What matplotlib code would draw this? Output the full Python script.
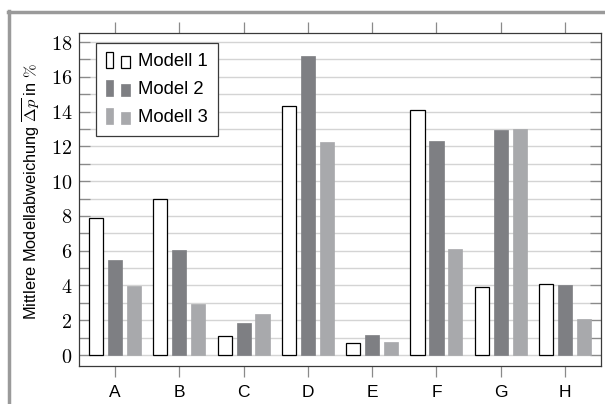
import matplotlib
matplotlib.use("Agg")
import matplotlib.pyplot as plt
import numpy as np
from matplotlib.legend_handler import HandlerBase
from matplotlib.lines import Line2D
from matplotlib.patches import Rectangle

categories = ["A", "B", "C", "D", "E", "F", "G", "H"]
modell_1 = [7.9, 9.0, 1.07, 14.3, 0.67, 14.1, 3.9, 4.06]
model_2 = [5.44, 6.03, 1.85, 17.18, 1.15, 12.3, 12.93, 4.02]
modell_3 = [3.98, 2.95, 2.35, 12.24, 0.76, 6.1, 13.0, 2.05]
series_labels = ["Modell 1", "Model 2", "Modell 3"]
y_ticks = [0, 2, 4, 6, 8, 10, 12, 14, 16, 18]

COLORS = {
    "m1": "#FFFFFF",
    "m2": "#7E7F83",
    "m3": "#A8A9AC",
    "grid": "#D4D4D4",
    "tick": "#8A8A8A",
    "frame": "#9A9A9A",
    "spine": "#3A3A3A",
}

plt.rcParams["mathtext.fontset"] = "cm"
plt.rcParams["font.family"] = ["Liberation Sans", "DejaVu Sans"]


class TwoBoxHandler(HandlerBase):
    # pgfplots-style ybar legend image: one tall and one small box
    def create_artists(self, legend, orig_handle, xdescent, ydescent,
                       width, height, fontsize, trans):
        fc = orig_handle.get_facecolor()
        ec = orig_handle.get_edgecolor()
        lw = orig_handle.get_linewidth()
        x0, y0 = -xdescent, -ydescent
        r1 = Rectangle((x0, y0 - 0.15 * height), 0.3 * width, 1.25 * height,
                       facecolor=fc, edgecolor=ec, linewidth=lw, transform=trans)
        r2 = Rectangle((x0 + 0.62 * width, y0 - 0.15 * height), 0.36 * width, 0.95 * height,
                       facecolor=fc, edgecolor=ec, linewidth=lw, transform=trans)
        return [r1, r2]


fig = plt.figure(figsize=(6.05, 4.04), dpi=100, facecolor="white")
ax = fig.add_axes([0.1306, 0.0941, 0.8628, 0.8242])

x = np.arange(len(categories))
offset = 0.295
width = 0.22
b1 = ax.bar(x - offset, modell_1, width, color=COLORS["m1"], edgecolor="black",
            linewidth=0.9, zorder=3, label=series_labels[0])
b2 = ax.bar(x, model_2, width, color=COLORS["m2"], edgecolor=COLORS["m2"],
            linewidth=0.5, zorder=3, label=series_labels[1])
b3 = ax.bar(x + offset, modell_3, width, color=COLORS["m3"], edgecolor=COLORS["m3"],
            linewidth=0.5, zorder=3, label=series_labels[2])

ax.set_xlim(-0.56, len(categories) - 1 + 0.56)
ax.set_ylim(-0.63, 18.52)

ax.set_yticks(y_ticks)
ax.set_yticklabels([f"${t}$" for t in y_ticks], fontsize=14.5)
ax.set_yticks(np.arange(0, 19, 1), minor=True)
ax.grid(True, axis="y", which="both", color=COLORS["grid"], linewidth=1.0, zorder=0)
ax.tick_params(axis="y", which="both", direction="in", length=8, width=0.9,
               color=COLORS["tick"], left=True, right=True, pad=5)

ax.set_xticks(x)
ax.set_xticklabels(categories, fontsize=12.5)
ax.tick_params(axis="x", direction="out", length=8, width=0.9, color=COLORS["tick"],
               top=True, bottom=True, pad=6)

for sp in ax.spines.values():
    sp.set_color(COLORS["spine"])
    sp.set_linewidth(0.9)

ax.set_ylabel(r"Mittlere Modellabweichung $\overline{\Delta p}$ in $\%$", fontsize=11.8)
ax.yaxis.set_label_coords(-0.07, 0.525)

leg = ax.legend(handles=[b1.patches[0], b2.patches[0], b3.patches[0]], labels=series_labels,
                handler_map={Rectangle: TwoBoxHandler()},
                loc="upper left", bbox_to_anchor=(0.0326, 0.970), borderaxespad=0,
                fancybox=False, framealpha=1, edgecolor=COLORS["spine"], fontsize=13.3,
                handlelength=1.3, handletextpad=0.4, labelspacing=0.6, borderpad=0.55)
leg.get_frame().set_linewidth(0.9)

# gray frame of the surrounding scan
fig.add_artist(Line2D([7.5 / 605, 1.0], [1 - 12 / 404, 1 - 12 / 404], transform=fig.transFigure,
                      color=COLORS["frame"], linewidth=2.5))
fig.add_artist(Line2D([8.5 / 605, 8.5 / 605], [0, 1 - 11 / 404], transform=fig.transFigure,
                      color=COLORS["frame"], linewidth=2.5))

fig.savefig("out.png", dpi=100, facecolor="white")
